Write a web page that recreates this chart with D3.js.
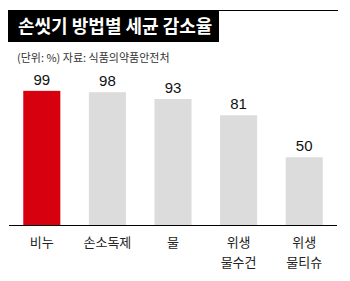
<!DOCTYPE html>
<html>
<head>
<meta charset="utf-8">
<script src="https://cdn.jsdelivr.net/npm/d3@7"></script>
<style>
  body { margin: 0; background: #fff; }
  svg { display: block; }
</style>
</head>
<body>
<div id="chart"></div>
<script>
// data
const categories = ["비누", "손소독제", "물", "위생\n물수건", "위생\n물티슈"];
const values = [99, 98, 93, 81, 50];
const highlight = "비누";

const titleText = "손씻기 방법별 세균 감소율";
const noteText = "(단위: %) 자료: 식품의약품안전처";

const width = 350, height = 281;
const korFont = "'Noto Sans CJK KR', 'Noto Sans', sans-serif";
const numFont = "'Liberation Sans', Arial, sans-serif";

const svg = d3.select("#chart").append("svg")
    .attr("width", width)
    .attr("height", height);

// top rule + title block
svg.append("line")
    .attr("x1", 8).attr("x2", 338)
    .attr("y1", 10.5).attr("y2", 10.5)
    .attr("stroke", "#000").attr("stroke-width", 1);

svg.append("rect")
    .attr("x", 8).attr("y", 10)
    .attr("width", 211).attr("height", 32)
    .attr("fill", "#000");

svg.append("text")
    .attr("x", 18).attr("y", 33)
    .attr("font-family", korFont)
    .attr("font-weight", "bold")
    .attr("font-size", "18px")
    .attr("fill", "#fff")
    .text(titleText);

svg.append("text")
    .attr("x", 17).attr("y", 62)
    .attr("font-family", korFont)
    .attr("font-size", "11px")
    .attr("fill", "#333")
    .text(noteText);

// scales
const x = d3.scaleBand()
    .domain(categories)
    .range([9, 337])
    .paddingInner(0.435)
    .paddingOuter(0.2175);

const y = d3.scaleLinear()
    .domain([0, 100])
    .range([225, 89.5]);

// bars
svg.selectAll("rect.bar")
    .data(categories)
    .join("rect")
    .attr("class", "bar")
    .attr("x", d => x(d))
    .attr("y", (d, i) => y(values[i]))
    .attr("width", x.bandwidth())
    .attr("height", (d, i) => y(0) - y(values[i]))
    .attr("fill", d => d === highlight ? "#d7000f" : "#dcdcdc");

// value labels
svg.selectAll("text.val")
    .data(categories)
    .join("text")
    .attr("class", "val")
    .attr("x", d => x(d) + x.bandwidth() / 2)
    .attr("y", (d, i) => y(values[i]) - 6)
    .attr("text-anchor", "middle")
    .attr("font-family", numFont)
    .attr("font-size", "15px")
    .attr("fill", "#111")
    .text((d, i) => values[i]);

// baseline
svg.append("line")
    .attr("x1", 9).attr("x2", 337)
    .attr("y1", y(0) + 0.5).attr("y2", y(0) + 0.5)
    .attr("stroke", "#000").attr("stroke-width", 1);

// category labels (may wrap to two lines)
const catLabels = svg.selectAll("text.cat")
    .data(categories)
    .join("text")
    .attr("class", "cat")
    .attr("text-anchor", "middle")
    .attr("font-family", korFont)
    .attr("font-size", "13px")
    .attr("fill", "#222");

catLabels.each(function (d) {
    const t = d3.select(this);
    d.split("\n").forEach((line, i) => {
        t.append("tspan")
            .attr("x", x(d) + x.bandwidth() / 2)
            .attr("y", 247 + i * 20)
            .text(line);
    });
});
</script>
</body>
</html>
